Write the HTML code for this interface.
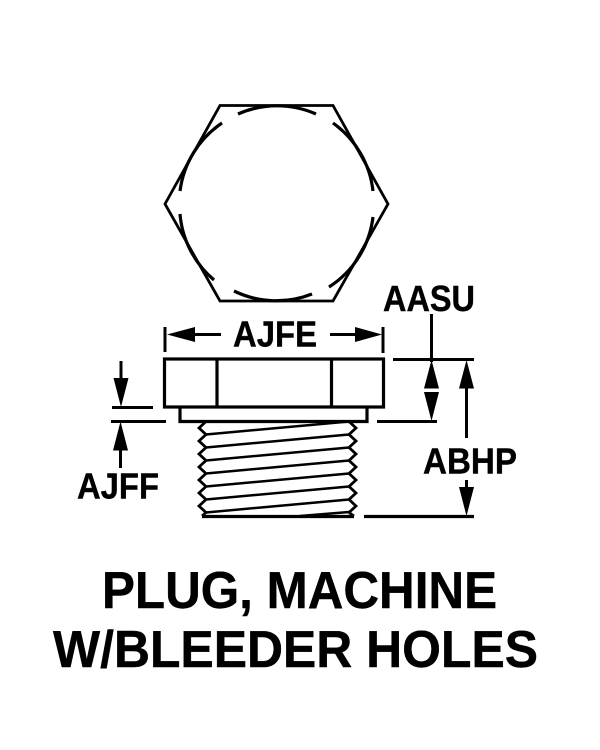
<!DOCTYPE html>
<html>
<head>
<meta charset="utf-8">
<style>
html,body{margin:0;padding:0;background:#fff;width:600px;height:750px;overflow:hidden}
svg{display:block}
text{font-family:"Liberation Sans",sans-serif;font-weight:bold;fill:#000;stroke:#000;stroke-width:0.4}
</style>
</head>
<body>
<svg width="600" height="750" viewBox="0 0 600 750" xmlns="http://www.w3.org/2000/svg">
<g fill="none" stroke="#000" stroke-width="3">
  <!-- hexagon -->
  <polygon points="220,105.5 333,105.5 388,204 333,301 220,301 165,204" stroke-width="2.8"/>
  <!-- arcs -->
  <g stroke-width="3.2">
    <path d="M238,114 A97,97 0 0 1 316,114"/>
    <path d="M333,123 A97,97 0 0 1 373,191"/>
    <path d="M373,217 A97,97 0 0 1 329,287"/>
    <path d="M312,294 A97,97 0 0 1 234,291"/>
    <path d="M214,280 A97,97 0 0 1 180,214"/>
    <path d="M180,191 A97,97 0 0 1 222,123"/>
  </g>
  <!-- head -->
  <rect x="164.5" y="359" width="219" height="48" stroke-width="3.2"/>
  <line x1="217" y1="359" x2="217" y2="407" stroke-width="3.2"/>
  <line x1="331.5" y1="359" x2="331.5" y2="407" stroke-width="3.2"/>
  <!-- flange -->
  <polyline points="180,407 180,421.5 367,421.5 367,407" stroke-width="3.2"/>
  <!-- thread zigzags -->
  <polyline stroke-width="2.8" points="206,421.5 199,428 206,434.5 199,441 206,447.5 199,454 206,460.5 199,467 206,473.5 199,480 206,486.5 199,493 206,499.5 199,506 206,512.5 202,516"/>
  <polyline stroke-width="2.8" points="349,421.5 356,428 349,434.5 356,441 349,447.5 356,454 349,460.5 356,467 349,473.5 356,480 349,486.5 356,493 349,499.5 356,506 349,512.5 354,516"/>
  <!-- thread lines -->
  <g stroke-width="2.5">
    <line x1="206" y1="434.5" x2="349" y2="421.5"/>
    <line x1="206" y1="447.5" x2="349" y2="434.5"/>
    <line x1="206" y1="460.5" x2="349" y2="447.5"/>
    <line x1="206" y1="473.5" x2="349" y2="460.5"/>
    <line x1="206" y1="486.5" x2="349" y2="473.5"/>
    <line x1="206" y1="499.5" x2="349" y2="486.5"/>
    <line x1="206" y1="512.5" x2="349" y2="499.5"/>
    <line x1="300" y1="516" x2="349" y2="512"/>
  </g>
  <line x1="202" y1="516.5" x2="354" y2="516.5" stroke-width="3.2"/>
  <!-- AJFE dim -->
  <line x1="165" y1="327" x2="165" y2="352"/>
  <line x1="383" y1="327" x2="383" y2="353"/>
  <line x1="195" y1="334.5" x2="221" y2="334.5"/>
  <line x1="330" y1="334.5" x2="356" y2="334.5"/>
  <!-- AJFF dim -->
  <line x1="112" y1="407.5" x2="153" y2="407.5"/>
  <line x1="111" y1="421.5" x2="166" y2="421.5"/>
  <line x1="121" y1="361" x2="121" y2="380"/>
  <line x1="120.5" y1="448" x2="120.5" y2="468"/>
  <!-- AASU dim -->
  <line x1="393" y1="359.5" x2="474" y2="359.5"/>
  <line x1="377" y1="421.5" x2="437" y2="421.5"/>
  <line x1="431.5" y1="314" x2="431.5" y2="362"/>
  <!-- ABHP dim -->
  <line x1="466.5" y1="385" x2="466.5" y2="438"/>
  <line x1="466.5" y1="480" x2="466.5" y2="490"/>
  <line x1="364" y1="516.5" x2="474" y2="516.5" stroke-width="3.2"/>
</g>
<!-- arrowheads -->
<g fill="#000" stroke="none">
  <polygon points="167,334.5 195,327 195,342"/>
  <polygon points="382,334.5 355,327 355,342"/>
  <polygon points="121,407 113.5,378 128.5,378"/>
  <polygon points="120.5,421.5 113,450.5 128,450.5"/>
  <polygon points="431.5,360 424,388.5 439,388.5"/>
  <polygon points="431.5,421 424,392 439,392"/>
  <polygon points="466.5,360 459,388.5 474,388.5"/>
  <polygon points="466.5,516 459,487 474,487"/>
</g>
<!-- labels -->
<text x="383" y="311" font-size="36" textLength="92" lengthAdjust="spacingAndGlyphs">AASU</text>
<text x="233" y="346.5" font-size="36" textLength="84" lengthAdjust="spacingAndGlyphs">AJFE</text>
<text x="77" y="498.5" font-size="36" textLength="82" lengthAdjust="spacingAndGlyphs">AJFF</text>
<text x="423" y="473.5" font-size="36" textLength="94" lengthAdjust="spacingAndGlyphs">ABHP</text>
<text x="102" y="608" font-size="52" textLength="395" lengthAdjust="spacingAndGlyphs">PLUG, MACHINE</text>
<text x="53" y="667" font-size="52" textLength="485" lengthAdjust="spacingAndGlyphs">W/BLEEDER HOLES</text>
</svg>
</body>
</html>
